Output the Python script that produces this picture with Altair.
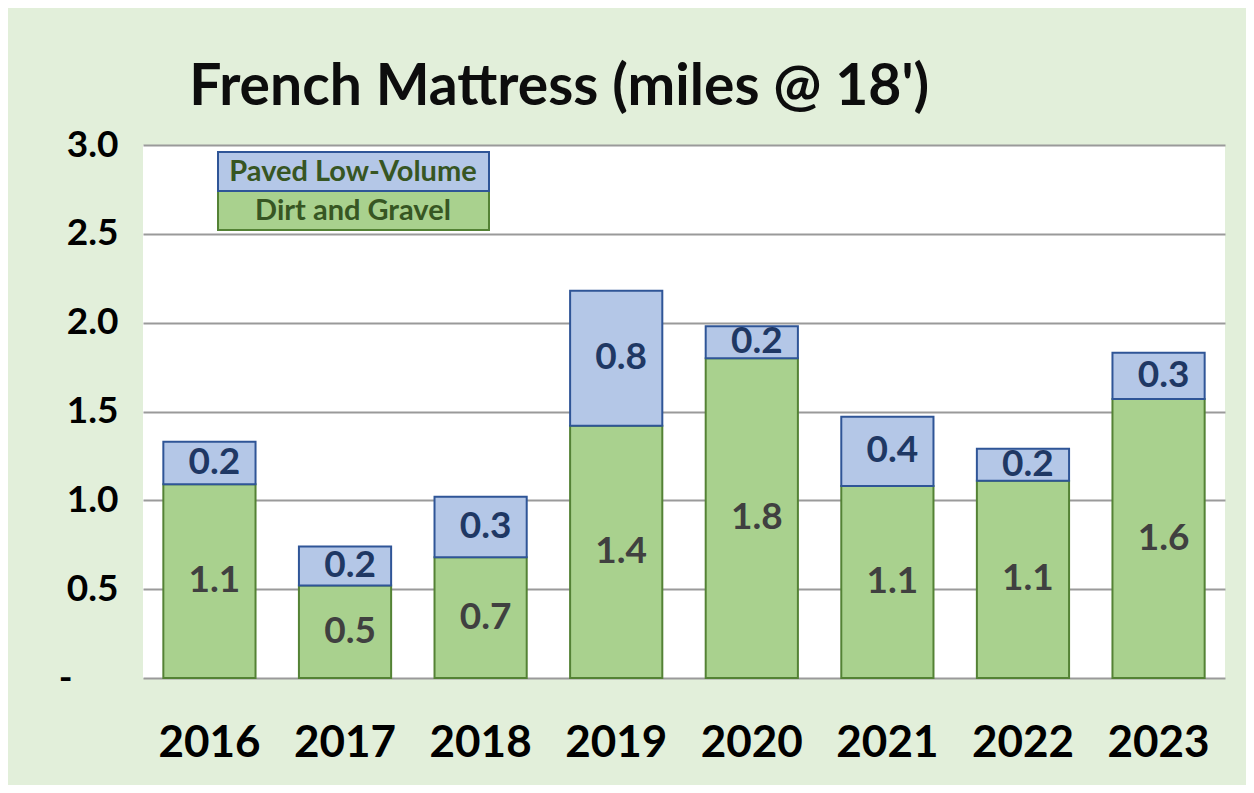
import altair as alt
import pandas as pd

years = ["2016", "2017", "2018", "2019", "2020", "2021", "2022", "2023"]
dirt_gravel = [1.09, 0.52, 0.68, 1.42, 1.80, 1.08, 1.11, 1.57]
paved_low_volume = [0.24, 0.22, 0.34, 0.76, 0.18, 0.39, 0.18, 0.26]
series_names = ["Dirt and Gravel", "Paved Low-Volume"]
y_ticks = [0, 0.5, 1.0, 1.5, 2.0, 2.5, 3.0]
title_text = "French Mattress (miles @ 18')"

rows = []
for i, y in enumerate(years):
    rows.append({"year": y, "series": series_names[0], "value": dirt_gravel[i], "ord": 0})
    rows.append({"year": y, "series": series_names[1], "value": paved_low_volume[i], "ord": 1})
df = pd.DataFrame(rows)

FONT = "Lato"
fill_scale = alt.Scale(domain=series_names, range=["#A9D18E", "#B4C7E7"])
stroke_scale = alt.Scale(domain=series_names, range=["#548235", "#2F5597"])
text_scale = alt.Scale(domain=series_names, range=["#404040", "#1F3864"])

x_enc = alt.X(
    "year:N",
    sort=years,
    title=None,
    scale=alt.Scale(paddingInner=0.32, paddingOuter=0.15),
    axis=alt.Axis(
        labelFont=FONT, labelFontSize=44, labelFontWeight="bold", labelColor="#000000",
        labelAngle=0, ticks=False, tickSize=0, domain=False, labelPadding=43, grid=False,
    ),
)

base = (
    alt.Chart(df)
    .transform_stack(stack="value", as_=["y0", "y1"], groupby=["year"], sort=[alt.SortField("ord")])
    .transform_calculate(mid="(datum.y0 + datum.y1) / 2")
)

bars = base.mark_bar(strokeWidth=2).encode(
    x=x_enc,
    y=alt.Y(
        "y0:Q",
        title=None,
        scale=alt.Scale(domain=[0, 3], nice=False),
        axis=alt.Axis(
            values=y_ticks,
            labelExpr="datum.value == 0 ? '-' : format(datum.value, '.1f')",
            labelFont=FONT, labelFontSize=37, labelFontWeight="bold", labelColor="#000000",
            ticks=False, tickSize=0, domain=False,
            labelPadding={"condition": {"test": "datum.value == 0", "value": 71}, "value": 25},
            grid=True, gridColor="#9A9A9A", gridWidth=2,
        ),
    ),
    y2="y1:Q",
    fill=alt.Fill("series:N", scale=fill_scale, legend=None),
    stroke=alt.Stroke("series:N", scale=stroke_scale, legend=None),
)

labels = base.mark_text(font=FONT, fontSize=37, fontWeight="bold", dx=5, baseline="middle").encode(
    x=alt.X("year:N", sort=years),
    y=alt.Y("mid:Q"),
    text=alt.Text("value:Q", format=".1f"),
    color=alt.Color("series:N", scale=text_scale, legend=None),
)

leg_df_top = pd.DataFrame({"label": [series_names[1]]})
leg_df_bot = pd.DataFrame({"label": [series_names[0]]})

leg_rect_top = alt.Chart(leg_df_top).mark_rect(fill="#B4C7E7", stroke="#2F5597", strokeWidth=2).encode(
    x=alt.value(75), x2=alt.value(346), y=alt.value(7), y2=alt.value(46)
)
leg_rect_bot = alt.Chart(leg_df_bot).mark_rect(fill="#A9D18E", stroke="#548235", strokeWidth=2).encode(
    x=alt.value(75), x2=alt.value(346), y=alt.value(46), y2=alt.value(85)
)
leg_text_top = alt.Chart(leg_df_top).mark_text(
    font=FONT, fontSize=29, fontWeight="bold", color="#375623", baseline="middle"
).encode(x=alt.value(210), y=alt.value(27), text="label:N")
leg_text_bot = alt.Chart(leg_df_bot).mark_text(
    font=FONT, fontSize=29, fontWeight="bold", color="#375623", baseline="middle"
).encode(x=alt.value(210), y=alt.value(66), text="label:N")

chart = (
    alt.layer(bars, labels, leg_rect_bot, leg_rect_top, leg_text_top, leg_text_bot)
    .properties(
        width=1082,
        height=533,
        title=alt.TitleParams(
            title_text, anchor="start", font=FONT, fontSize=57, fontWeight="bold",
            color="#0D0D0D", dx=131, offset=9,
        ),
        padding={"left": 135, "top": 137, "right": 21, "bottom": 107},
        autosize=alt.AutoSizeParams(type="none"),
    )
    .configure(background="#E2EFDA")
    .configure_view(fill="#FFFFFF", stroke=None)
)

chart.save("out.html", embed_options={"renderer": "svg", "actions": False})
